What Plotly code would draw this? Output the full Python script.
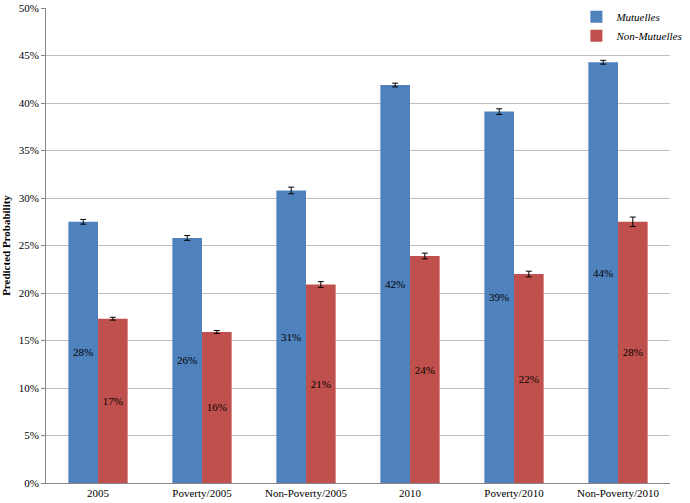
import plotly.graph_objects as go

categories = ["2005", "Poverty/2005", "Non-Poverty/2005", "2010", "Poverty/2010", "Non-Poverty/2010"]
mutuelles = [27.5, 25.8, 30.8, 41.9, 39.1, 44.3]
mutuelles_err = [0.25, 0.25, 0.35, 0.2, 0.3, 0.2]
non_mutuelles = [17.3, 15.9, 20.9, 23.9, 22.0, 27.5]
non_mutuelles_err = [0.15, 0.15, 0.3, 0.3, 0.3, 0.5]
y_ticks = [0, 5, 10, 15, 20, 25, 30, 35, 40, 45, 50]
y_tick_labels = [f"{v}%" for v in y_ticks]

font = "Liberation Serif, Times New Roman, serif"

fig = go.Figure()
fig.add_trace(go.Bar(
    name="Mutuelles", x=categories, y=mutuelles,
    marker=dict(color="#4F81BD", line=dict(width=0)),
    error_y=dict(type="data", array=mutuelles_err, color="#000000", thickness=1, width=3),
    text=[f"{round(v)}%" for v in mutuelles], textposition="inside",
    insidetextanchor="middle", textangle=0,
    textfont=dict(family=font, size=11, color="#000000"),
))
fig.add_trace(go.Bar(
    name="Non-Mutuelles", x=categories, y=non_mutuelles,
    marker=dict(color="#C0504D", line=dict(width=0)),
    error_y=dict(type="data", array=non_mutuelles_err, color="#000000", thickness=1, width=3),
    text=[f"{round(v)}%" for v in non_mutuelles], textposition="inside",
    insidetextanchor="middle", textangle=0,
    textfont=dict(family=font, size=11, color="#000000"),
))

fig.update_layout(
    width=690, height=503,
    margin=dict(l=46, r=2, t=7, b=20),
    paper_bgcolor="white", plot_bgcolor="white",
    barmode="group", bargap=0.43, bargroupgap=0,
    font=dict(family=font, size=11, color="#000000"),
    uniformtext=dict(mode="show", minsize=11),
    showlegend=True,
    legend=dict(
        x=0.85, y=1.012, xanchor="left", yanchor="top",
        font=dict(family=font, size=11, color="#000000", style="italic"),
        bgcolor="rgba(0,0,0,0)", itemwidth=30, tracegroupgap=0,
    ),
    xaxis=dict(
        showline=True, linecolor="#888888", linewidth=1,
        ticks="", tickfont=dict(family=font, size=11),
        showgrid=False,
    ),
    yaxis=dict(
        range=[0, 50.01], tickvals=y_ticks, ticktext=y_tick_labels,
        showline=True, linecolor="#888888", linewidth=1,
        ticks="outside", ticklen=4, tickcolor="#888888",
        showgrid=True, gridcolor="#BFBFBF", gridwidth=1,
        tickfont=dict(family=font, size=11),
        title=dict(text="<b>Predicted Probability</b>", font=dict(family=font, size=11), standoff=5),
        zeroline=False,
    ),
)

fig.write_html("out.html", post_script="document.body.style.margin='0';",
               config={"displayModeBar": False})
